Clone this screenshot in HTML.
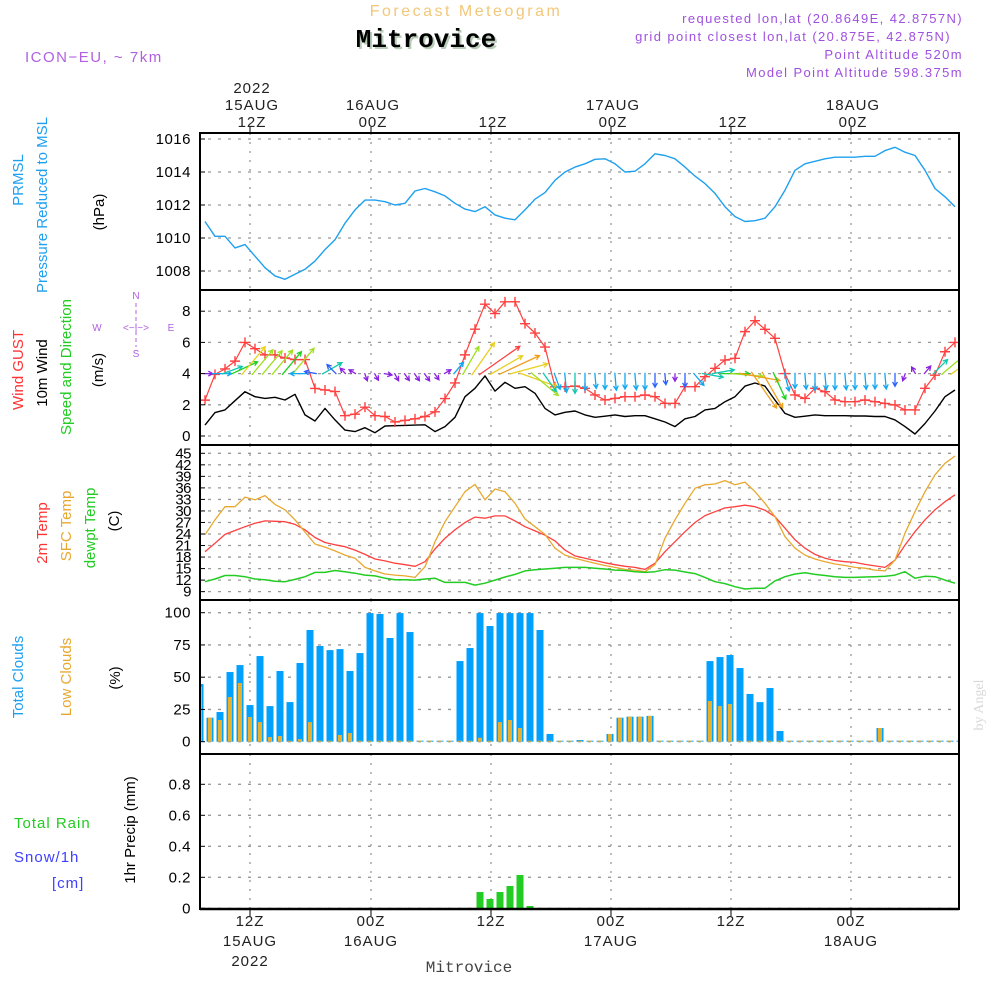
<!DOCTYPE html>
<html><head><meta charset="utf-8"><title>Meteogram Mitrovice</title>
<style>
body{margin:0;background:#fff;width:1000px;height:1000px;overflow:hidden}
svg{display:block}
text{font-family:"Liberation Sans",sans-serif}
.ax{font-size:15px;fill:#000;letter-spacing:0.5px}
.tl{font-size:15px;fill:#222;letter-spacing:1px;text-anchor:middle}
</style></head>
<body>
<svg id="chart" width="1000" height="1000" viewBox="0 0 1000 1000">
<defs><clipPath id="pclip"><rect x="200" y="133" width="759" height="777"/></clipPath></defs>
<g>
<text x="466" y="16" text-anchor="middle" style="font-size:16px;fill:#f2c77a;letter-spacing:2.5px">Forecast Meteogram</text>
<text x="428" y="49" text-anchor="middle" style="font-family:'Liberation Mono',monospace;font-size:26px;font-weight:bold;fill:#b8ccb8">Mitrovice</text>
<text x="426" y="47" text-anchor="middle" style="font-family:'Liberation Mono',monospace;font-size:26px;font-weight:bold;fill:#000">Mitrovice</text>
<text x="25" y="62" style="font-size:15px;fill:#b060e0;letter-spacing:1.5px">ICON−EU, ~ 7km</text>
<g style="font-size:13px;fill:#a050e0;letter-spacing:1.4px" text-anchor="end">
<text x="963" y="23">requested lon,lat (20.8649E, 42.8757N)</text>
<text x="951" y="41">grid point closest lon,lat (20.875E, 42.875N)</text>
<text x="963" y="59">Point Altitude 520m</text>
<text x="963" y="77">Model Point Altitude 598.375m</text>
</g>
</g>
<g id="grid"></g>
<g id="marks" clip-path="url(#pclip)"></g>
<g id="frames"></g>
<g id="axes"></g>
<g style="font-size:15px">
<text transform="translate(23,180) rotate(-90)" text-anchor="middle" fill="#1ea0f0">PRMSL</text>
<text transform="translate(47,205) rotate(-90)" text-anchor="middle" fill="#1ea0f0">Pressure Reduced to MSL</text>
<text transform="translate(104,212) rotate(-90)" text-anchor="middle" fill="#000">(hPa)</text>
<text transform="translate(23,370) rotate(-90)" text-anchor="middle" fill="#ff3333">Wind GUST</text>
<text transform="translate(47,373) rotate(-90)" text-anchor="middle" fill="#000">10m Wind</text>
<text transform="translate(71,367) rotate(-90)" text-anchor="middle" fill="#22cc22">Speed and Direction</text>
<text transform="translate(103,370) rotate(-90)" text-anchor="middle" fill="#000">(m/s)</text>
<g style="font-size:10px;fill:#b060e0" text-anchor="middle">
<text x="136" y="299">N</text><text x="97" y="331">W</text><text x="171" y="331">E</text><text x="136" y="357">S</text>
<text x="136" y="331" style="font-size:10px">&lt;−|−&gt;</text>
<line x1="136" y1="303" x2="136" y2="347" stroke="#b060e0" stroke-dasharray="4,3"/>
</g>
<text transform="translate(47,533) rotate(-90)" text-anchor="middle" fill="#ff3333">2m Temp</text>
<text transform="translate(71,526) rotate(-90)" text-anchor="middle" fill="#e8a830">SFC Temp</text>
<text transform="translate(95,528) rotate(-90)" text-anchor="middle" fill="#22cc22">dewpt Temp</text>
<text transform="translate(119,521) rotate(-90)" text-anchor="middle" fill="#000">(C)</text>
<text transform="translate(23,677) rotate(-90)" text-anchor="middle" fill="#1ea0f0">Total Clouds</text>
<text transform="translate(71,677) rotate(-90)" text-anchor="middle" fill="#e8a830">Low Clouds</text>
<text transform="translate(120,678) rotate(-90)" text-anchor="middle" fill="#000">(%)</text>
<text x="14" y="828" fill="#22cc22" style="letter-spacing:1px">Total  Rain</text>
<text x="14" y="862" fill="#4040ff" style="letter-spacing:1px">Snow/1h</text>
<text x="52" y="888" fill="#4040ff" style="letter-spacing:1px">[cm]</text>
<text transform="translate(135,830) rotate(-90)" text-anchor="middle" fill="#000">1hr Precip (mm)</text>
<text transform="translate(983,705) rotate(-90)" text-anchor="middle" style="font-family:'Liberation Serif',serif;font-size:14px;fill:#d8d8d8">by Angel</text>
<text x="469" y="972" text-anchor="middle" style="font-family:'Liberation Mono',monospace;font-size:16px;fill:#444">Mitrovice</text>
</g>
</svg>
<script>
const pressure=[1011.0,1010.1,1010.1,1009.4,1009.6,1008.9,1008.2,1007.7,1007.5,1007.8,
1008.1,1008.6,1009.3,1009.9,1010.9,1011.7,1012.3,1012.3,1012.2,1012.0,
1012.1,1012.85,1013.0,1012.8,1012.55,1012.1,1011.75,1011.6,1011.9,1011.4,
1011.2,1011.1,1011.7,1012.35,1012.75,1013.5,1014.0,1014.3,1014.5,1014.77,
1014.8,1014.5,1014.0,1014.05,1014.5,1015.1,1015.0,1014.8,1014.3,1013.75,
1013.3,1012.7,1011.9,1011.3,1011.0,1011.05,1011.2,1011.9,1012.9,1014.1,
1014.5,1014.65,1014.8,1014.9,1014.9,1014.9,1014.95,1014.95,1015.3,1015.5,
1015.2,1015.0,1014.1,1013.0,1012.5,1011.9];
const gust=[2.3,3.95,4.3,4.8,6.0,5.6,5.2,5.2,5.0,4.9,4.9,3.05,2.95,2.85,1.3,1.4,1.85,1.3,1.25,0.9,
1.0,1.1,1.25,1.55,2.4,3.4,5.2,6.85,8.45,7.85,8.6,8.6,7.2,6.6,5.7,3.15,3.15,3.2,
3.06,2.63,2.31,2.41,2.52,2.52,2.63,2.52,2.09,2.09,3.16,3.16,3.8,4.34,4.87,4.98,6.69,7.39,6.84,6.26,
4.0,2.63,2.41,3.06,2.84,2.31,2.2,2.2,2.31,2.2,2.09,1.99,1.67,1.67,3.06,3.9,5.4,6.0];
const wind=[0.7,1.5,1.67,2.26,2.84,2.52,2.41,2.48,2.31,2.67,1.35,0.96,1.77,1.03,0.38,0.28,0.53,0.21,0.64,0.66,
0.68,0.7,0.72,0.28,0.6,1.2,2.52,3.06,3.85,2.88,3.44,3.06,3.16,2.74,1.77,1.35,1.52,1.6,
1.35,1.2,1.27,1.35,1.25,1.3,1.3,1.1,0.9,0.6,1.1,1.25,1.67,1.77,2.2,2.52,3.2,3.4,3.2,2.3,
1.45,1.2,1.27,1.35,1.3,1.3,1.3,1.28,1.28,1.25,1.25,1.03,0.6,0.13,0.8,1.6,2.52,2.95];
const windDir=[90,90,70,65,40,40,40,40,40,40,270,280,60,315,315,300,160,150,100,150,
145,145,145,145,60,40,30,35,55,60,65,75,110,130,145,160,175,180,
180,175,180,175,180,175,180,180,175,180,180,140,100,
80,90,95,100,145,150,155,165,
180,175,180,175,180,175,180,175,180,175,180,
200,330,40,45,50,55];
const t2m=[19.4,21.6,23.9,24.9,25.9,26.8,27.4,27.3,27.2,26.5,25.1,23.1,21.8,21.2,20.7,19.8,18.7,17.5,17.0,16.4,
16.0,15.6,16.8,20.1,22.9,25.1,27.0,28.4,28.1,28.7,28.7,27.4,25.9,24.8,23.7,22.2,19.8,
18.3,17.7,17.1,16.5,16.0,15.6,15.3,14.8,16.4,19.4,22.0,24.6,27.0,28.8,29.8,30.8,31.1,31.5,31.1,30.2,
28.5,25.5,22.5,20.3,18.7,17.7,17.1,16.8,16.6,16.1,15.7,15.3,17.2,21.1,24.6,27.7,30.3,32.4,34.2];
const tsfc=[23.8,27.7,31.1,31.1,33.6,32.9,34.0,31.7,30.3,27.7,24.5,21.4,20.6,19.6,18.5,17.7,15.3,14.4,13.6,13.3,
13.1,12.7,15.5,22.0,27.2,31.1,35.0,36.9,32.9,35.7,35.0,32.0,27.9,25.9,23.9,20.3,18.5,
17.7,17.0,16.4,15.8,15.3,14.8,14.6,14.2,16.0,22.9,27.7,32.0,35.9,36.8,37.0,37.9,36.8,37.5,35.0,32.0,
28.5,23.3,20.3,18.5,17.5,16.8,16.2,15.8,15.3,15.1,14.6,14.4,17.2,24.2,29.8,35.0,39.4,42.4,44.3];
const dewpt=[11.6,12.3,13.2,13.2,12.9,12.3,12.1,11.7,11.6,12.2,12.9,14.0,14.0,14.5,14.2,13.8,13.3,13.1,12.5,12.1,
12.1,12.0,12.3,12.5,11.4,11.4,11.4,10.7,11.2,12.0,12.8,13.5,14.4,14.7,14.9,15.1,15.3,
15.3,15.3,15.1,14.9,14.6,14.5,14.2,14.0,14.2,14.7,14.6,14.1,13.7,12.7,11.6,11.1,10.3,9.7,9.9,9.9,
11.8,12.9,13.6,13.9,13.5,13.2,12.9,12.7,12.7,12.8,12.9,13.0,13.3,14.2,12.5,13.0,12.9,12.0,11.2];
const totalClouds=[44.7,18.6,23,54,59.4,28.4,66.4,27.6,54.8,30.7,61,86.6,74.2,71,71.8,54.8,68.7,99.7,99,80.4,
99.7,85,0,0,0,0,62.5,72.6,99.7,89.7,99.7,99.7,99.7,99.7,86.6,6,0,0,1.3,0,
0,6,18.6,19.4,19.4,20,0,0,0,0,0,62.5,65.6,67.2,57.1,37,30.7,41.6,8.3,0,
0,0,0,0,0,0,0,0,10.6,0,0,0,0,0,0,0,0];
const lowClouds=[42.6,18.6,16.8,34.6,45.5,19.1,15.2,3.6,4.4,0,2,15.2,0,0,5.2,6.7,0,0,0,0,
0,0,0,0,0,0,0,0,3,0,15.2,16.8,10.6,0,0,0,0,0,0,0,
0,6,18.6,19.4,19.4,20,0,0,0,0,0,31.5,27.6,29.2,0,0,0,0,0,0,
0,0,0,0,0,0,0,0,10.6,0,0,0,0,0,0,0,0];
const precip=[0,0,0,0,0,0,0,0,0,0,0,0,0,0,0,0,0,0,0,0,0,0,0,0,0,0,0,0,0.105,0.06,0.105,0.144,0.215,0.015,0,0,0,0,0,0,
0,0,0,0,0,0,0,0,0,0,0,0,0,0,0,0,0,0,0,0,0,0,0,0,0,0,0,0,0,0,0,0,0,0,0,0,0];
const pTicks=[1008,1010,1012,1014,1016];
const wTicks=[0,2,4,6,8];
const tTicks=[9,12,15,18,21,24,27,30,33,36,39,42,45];
const cTicks=[0,25,50,75,100];
const rTicks=[0,0.2,0.4,0.6,0.8];
const topLabels=[["2022","15AUG","12Z"],["","16AUG","00Z"],["","","12Z"],["","17AUG","00Z"],["","","12Z"],["","18AUG","00Z"]];
const botLabels=[["12Z","15AUG","2022"],["00Z","16AUG",""],["12Z","",""],["00Z","17AUG",""],["12Z","",""],["00Z","18AUG",""]];

const NS="http://www.w3.org/2000/svg";
const X0=200,X1=959;
const xLine=i=>205+10*i;
const xBar=i=>200+10*i;
const yP=v=>139+(1016-v)*16.5;
const yW=v=>436-v*15.6;
const yT=v=>453.3+(45-v)*3.843;
const yC=v=>741.7-v*1.29;
const yR=v=>908.3-v*155;
const panels=[[133,290],[290,445],[445,600],[600,754],[754,909]];
function mk(tag,attrs,parent){const e=document.createElementNS(NS,tag);for(const k in attrs)e.setAttribute(k,attrs[k]);parent.appendChild(e);return e;}
const G=document.getElementById('grid'),M=document.getElementById('marks'),F=document.getElementById('frames'),A=document.getElementById('axes');
const xGrid=[250,371,491,611,731,851];
xGrid.forEach((x,i)=>{panels.forEach(p=>{
 const l=mk('line',{x1:x,x2:x,y1:p[0],y2:p[1],stroke:'#999','stroke-width':1.3,'stroke-dasharray':'2,7'},G);
 
 
});});
function hgrid(ticks,fy,labelFmt,fs){
 ticks.forEach(t=>{const y=fy(t);
  const l=mk('line',{x1:X0+8,x2:X1,y1:y,y2:y,stroke:'#999','stroke-width':1.3,'stroke-dasharray':'3,7'},G);
  
  
  mk('line',{x1:X0,x2:X0+5,y1:y,y2:y,stroke:'#000','stroke-width':1},A);
  const tx=mk('text',{x:191,y:y+5,'text-anchor':'end',class:'ax'},A);
  
  
  if(fs){tx.setAttribute('style','font-size:'+fs+'px;letter-spacing:-0.5px');tx.setAttribute('y',y+5);}
  tx.textContent=labelFmt(t);
 });
}
hgrid(pTicks,yP,t=>t);
hgrid(wTicks,yW,t=>t);
hgrid(tTicks,yT,t=>t,15);
hgrid(cTicks,yC,t=>t);
hgrid(rTicks,yR,t=>t===0?'0':t.toFixed(1));
panels.forEach(p=>{const r=mk('rect',{x:X0,y:p[0],width:X1-X0,height:p[1]-p[0],fill:'none',stroke:'#000','stroke-width':2},F);
 
 });
xGrid.forEach((x,i)=>{
 mk('line',{x1:x,x2:x,y1:127,y2:133,stroke:'#000'},A);
 mk('line',{x1:x,x2:x,y1:909,y2:916,stroke:'#000'},A);
 topLabels[i].forEach((s,j)=>{if(!s)return;const t=mk('text',{x:x+2,y:93+j*17,class:'tl'},A);
  
  
  t.textContent=s;});
 botLabels[i].forEach((s,j)=>{if(!s)return;const t=mk('text',{x:x,y:926+j*20,class:'tl'},A);
  
  
  t.textContent=s;});
});
function line(arr,fy,color,w,name){
 const d=arr.map((v,i)=>(i?'L':'M')+xLine(i).toFixed(1)+','+fy(v).toFixed(1)).join('');
 const p=mk('path',{d:d,fill:'none',stroke:color,'stroke-width':w,'stroke-linejoin':'round'},M);
 
 
}
line(pressure,yP,'#1ea0f0',1.4,'pressure-line');
line(wind,yW,'#000',1.4,'wind-speed-line');
line(gust,yW,'#ff4040',1.2,'wind-gust-line');
gust.forEach((v,i)=>{const x=xLine(i),y=yW(v);
 const g=mk('path',{d:`M${x-5},${y}H${x+5}M${x},${y-5}V${y+5}`,stroke:'#ff4040','stroke-width':1.4},M);
 
 });
function wcol(s){if(s<0.9)return'#8a20e0';if(s<1.2)return'#2a60ff';if(s<1.6)return'#10a8f0';if(s<2.0)return'#10c8b0';if(s<2.4)return'#20d020';if(s<2.8)return'#a0e020';if(s<3.2)return'#e8d020';if(s<3.6)return'#f0a020';return'#ff4040';}
windDir.forEach((dir,i)=>{const s=wind[i];const L=Math.max(8,s*13);const a=dir*Math.PI/180;
 const dx=Math.sin(a)*L,dy=-Math.cos(a)*L;const x0=xLine(i)-dx*0.15,y0=yW(4)-dy*0.05;const x1=x0+dx,y1=y0+dy;
 const h=5,ang=Math.atan2(dy,dx);
 const hx1=x1-h*Math.cos(ang-0.5),hy1=y1-h*Math.sin(ang-0.5),hx2=x1-h*Math.cos(ang+0.5),hy2=y1-h*Math.sin(ang+0.5);
 const c=wcol(s);
 const p=mk('path',{d:`M${x0.toFixed(1)},${y0.toFixed(1)}L${x1.toFixed(1)},${y1.toFixed(1)}M${hx1.toFixed(1)},${hy1.toFixed(1)}L${x1.toFixed(1)},${y1.toFixed(1)}L${hx2.toFixed(1)},${hy2.toFixed(1)}`,stroke:c,'stroke-width':1.3,fill:'none'},M);
 
 });
line(t2m,yT,'#ff4040',1.3,'t2m-line');
line(tsfc,yT,'#e8a830',1.3,'sfc-temp-line');
line(dewpt,yT,'#22cc22',1.5,'dewpoint-line');
totalClouds.forEach((v,i)=>{const x=xBar(i),y=yC(v);
 const r=mk('rect',{x:x-3.5,y:Math.min(y,yC(0)-1),width:7,height:Math.max(1,yC(0)-y),fill:'#00a0ff'},M);
 
 });
lowClouds.forEach((v,i)=>{const x=xBar(i),y=yC(v);
 const r=mk('rect',{x:x-2,y:Math.min(y,yC(0)-1),width:4,height:Math.max(1,yC(0)-y),fill:'#e8b030'},M);
 
 });
precip.forEach((v,i)=>{if(v<=0)return;const x=xBar(i),y=yR(v);
 const r=mk('rect',{x:x-3.5,y:y,width:7,height:yR(0)-y,fill:'#22cc22'},M);
 
 });
mk('line',{x1:X0,x2:X1,y1:909,y2:909,stroke:'#000','stroke-width':2.5},A);
</script>
</body></html>
